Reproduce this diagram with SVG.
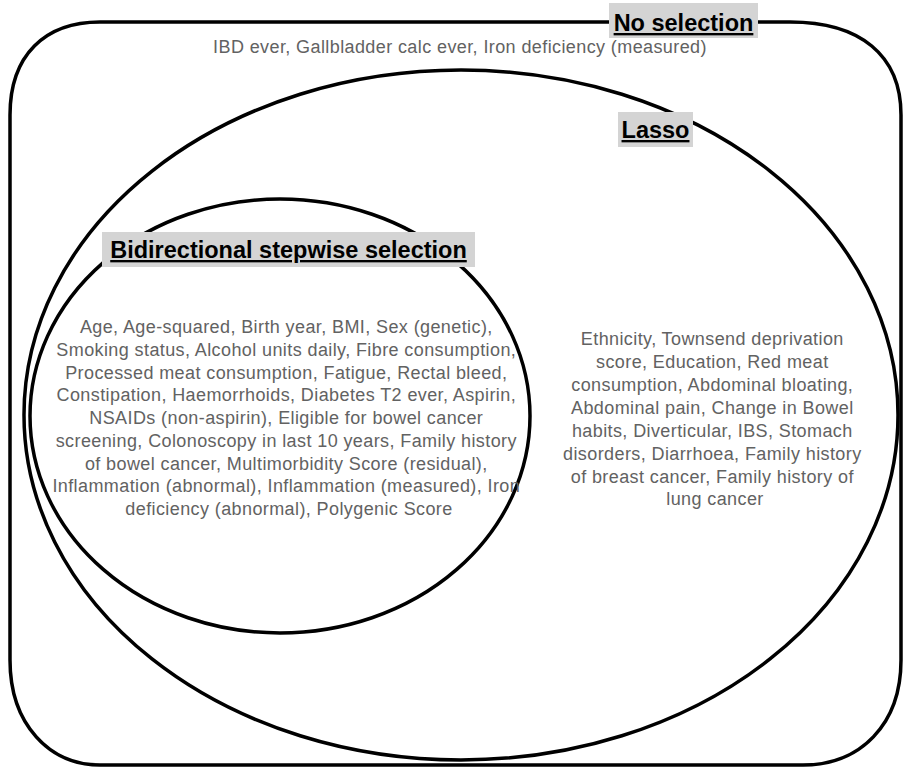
<svg xmlns="http://www.w3.org/2000/svg" width="903" height="767" viewBox="0 0 903 767">
<style>
.shape{fill:none;stroke:#000;stroke-width:3.5}
.lbl{fill:#d4d4d4}
.title{font-family:"Liberation Sans",Arial,sans-serif;font-size:23.5px;font-weight:bold;fill:#000;text-decoration:underline;text-anchor:middle}
.body{font-family:"Liberation Sans",Arial,sans-serif;font-size:18px;letter-spacing:0.4px;fill:#626262;text-anchor:middle}
</style>
<rect width="903" height="767" fill="#fff"/>
<g id="no-selection">
<path class="shape" d="M100,22 L790,22 C860,22 901,55 901,115 L901,660 C901,725 860,765 803,765 L100,765 C50,765 10,725 10,660 L10,115 C10,55 45,22 100,22 Z"/>
<rect class="lbl" x="609" y="3" width="149" height="35"/>
<text class="title" x="683.5" y="31">No selection</text>
<text class="body" x="460" y="53">IBD ever, Gallbladder calc ever, Iron deficiency (measured)</text>
</g>
<g id="lasso">
<ellipse class="shape" cx="461" cy="415" rx="437" ry="345"/>
<rect class="lbl" x="618" y="112" width="75" height="35"/>
<text class="title" x="655.5" y="138">Lasso</text>
<text class="body">
<tspan x="715" y="345">Ethnicity, Townsend deprivation</tspan>
<tspan x="715" y="368">score, Education, Red meat</tspan>
<tspan x="715" y="391">consumption, Abdominal bloating,</tspan>
<tspan x="715" y="414">Abdominal pain, Change in Bowel</tspan>
<tspan x="715" y="437">habits, Diverticular, IBS, Stomach</tspan>
<tspan x="715" y="460">disorders, Diarrhoea, Family history</tspan>
<tspan x="715" y="483">of breast cancer, Family history of</tspan>
<tspan x="715" y="505">lung cancer</tspan>
</text>
</g>
<g id="bidirectional">
<ellipse class="shape" cx="280" cy="416" rx="250" ry="217"/>
<rect class="lbl" x="102" y="232" width="373" height="35"/>
<text class="title" x="288.5" y="258">Bidirectional stepwise selection</text>
<text class="body">
<tspan x="289" y="333">Age, Age-squared, Birth year, BMI, Sex (genetic),</tspan>
<tspan x="289" y="356">Smoking status, Alcohol units daily, Fibre consumption,</tspan>
<tspan x="289" y="379">Processed meat consumption, Fatigue, Rectal bleed,</tspan>
<tspan x="289" y="401">Constipation, Haemorrhoids, Diabetes T2 ever, Aspirin,</tspan>
<tspan x="289" y="424">NSAIDs (non-aspirin), Eligible for bowel cancer</tspan>
<tspan x="289" y="447">screening, Colonoscopy in last 10 years, Family history</tspan>
<tspan x="289" y="470">of bowel cancer, Multimorbidity Score (residual),</tspan>
<tspan x="289" y="492">Inflammation (abnormal), Inflammation (measured), Iron</tspan>
<tspan x="289" y="515">deficiency (abnormal), Polygenic Score</tspan>
</text>
</g>
<g id="connectors"></g>
</svg>
